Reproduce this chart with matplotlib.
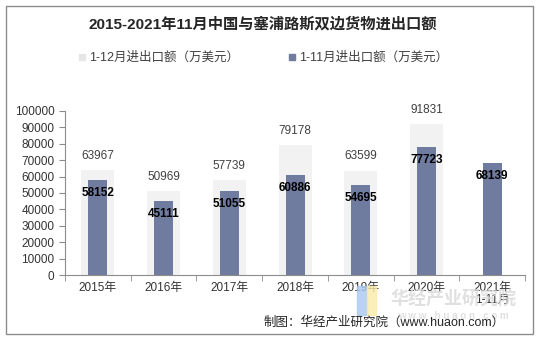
import numpy as np
import matplotlib.pyplot as plt
from matplotlib.patches import Rectangle

plt.rcParams['font.family'] = ['Liberation Sans', 'Noto Sans CJK SC']

years = ['2015年', '2016年', '2017年', '2018年', '2019年', '2020年', '2021年\n1-11月']
full_year = [63967, 50969, 57739, 79178, 63599, 91831, None]
jan_nov = [58152, 45111, 51055, 60886, 54695, 77723, 68139]

light = '#F2F2F2'
dark = '#6F7B9F'

fig = plt.figure(figsize=(5.37, 3.40), dpi=100)
fig.patches.append(Rectangle((0.011, 0.018), 0.982, 0.964, transform=fig.transFigure,
                             fill=False, edgecolor='#8C8C8C', linewidth=1))
ax = fig.add_axes([0.121, 0.191, 0.857, 0.483])

x = np.arange(len(years))
fy = [v if v is not None else 0 for v in full_year]
ax.bar(x, fy, width=0.5, color=light, zorder=1)
ax.bar(x, jan_nov, width=0.29, color=dark, zorder=2)

for i in range(len(years)):
    if full_year[i] is not None:
        ax.annotate(str(full_year[i]), (x[i], full_year[i]), xytext=(0, 6),
                    textcoords='offset points', ha='center', va='bottom',
                    fontsize=8.5, color='#404040')
    ax.annotate(str(jan_nov[i]), (x[i], jan_nov[i]), xytext=(0, -5),
                textcoords='offset points', ha='center', va='top',
                fontsize=8.5, fontweight='bold', color='black', zorder=5)

ax.set_xlim(-0.5, 6.5)
ax.set_ylim(0, 100000)
ax.set_yticks(np.arange(0, 100001, 10000))
ax.set_xticks(x)
ax.set_xticklabels(years, fontsize=8.5, color='#333333', linespacing=1.0)
ax.set_xticks(np.arange(-0.5, 7, 1), minor=True)
ax.tick_params(axis='x', which='major', length=0, pad=5)
ax.tick_params(axis='x', which='minor', length=4, color='#8C8C8C')
ax.tick_params(axis='y', labelsize=8.5, labelcolor='#333333', length=4, color='#8C8C8C')
for s in ['top', 'right']:
    ax.spines[s].set_visible(False)
for s in ['left', 'bottom']:
    ax.spines[s].set_color('#8C8C8C')

fig.text(0.49, 0.928, '2015-2021年11月中国与塞浦路斯双边货物进出口额', ha='center', va='center',
         fontsize=11, fontweight='bold', color='#262626')

h1 = plt.Line2D([], [], marker='s', linestyle='', color='#E6E6E6', markersize=5)
h2 = plt.Line2D([], [], marker='s', linestyle='', color=dark, markersize=5)
fig.legend([h1, h2], ['1-12月进出口额（万美元）', '1-11月进出口额（万美元）'],
           loc='center', bbox_to_anchor=(0.49, 0.83), ncol=2, frameon=False,
           fontsize=9, handlelength=0.6, handletextpad=0.2, columnspacing=4.0,
           labelcolor='#404040')

# watermark
fig.text(0.845, 0.118, '华经产业研究院', ha='center', va='center', fontsize=13,
         fontweight='bold', color='#D9D9D9', alpha=0.8, zorder=0)
fig.text(0.845, 0.07, 'w w w . h u a o n . c o m', ha='center', va='center', fontsize=7,
         fontweight='bold', color='#D9D9D9', alpha=0.8, zorder=0)
fig.patches.append(Rectangle((0.665, 0.075), 0.018, 0.085, transform=fig.transFigure,
                             color='#A9C8F0', alpha=0.8, zorder=0))
fig.patches.append(Rectangle((0.683, 0.075), 0.018, 0.085, transform=fig.transFigure,
                             color='#FBEBA8', alpha=0.8, zorder=0))

fig.text(0.94, 0.052, '制图：华经产业研究院（www.huaon.com）', ha='right', va='center',
         fontsize=9, color='#262626')

fig.savefig('out.png', dpi=100)
